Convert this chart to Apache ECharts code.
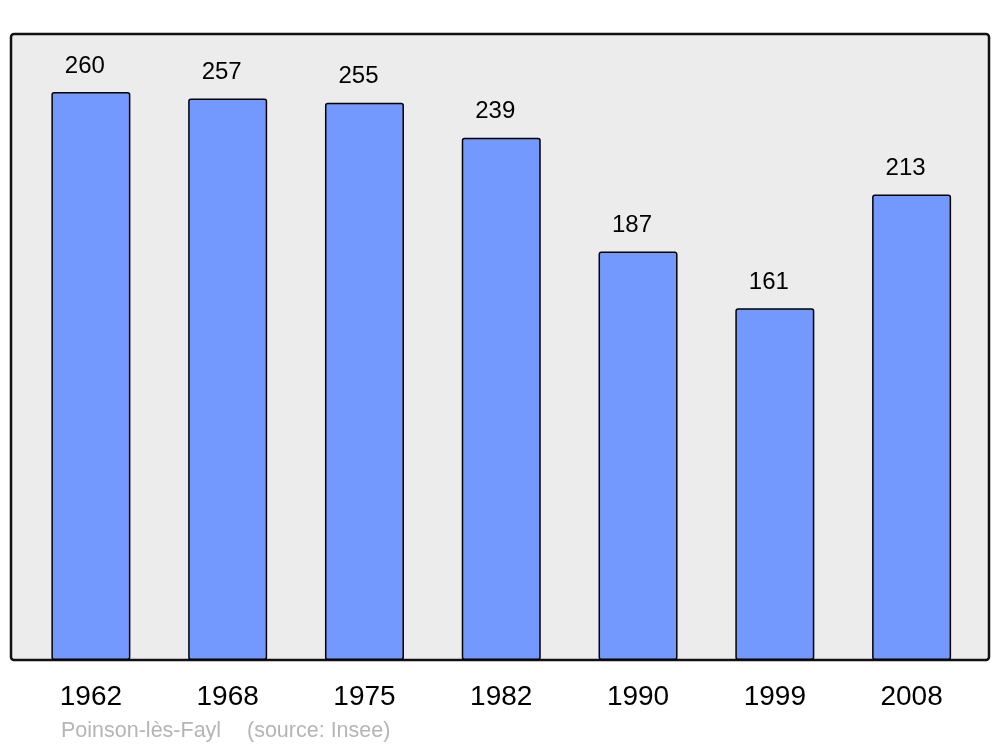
<!DOCTYPE html>
<html>
<head>
<meta charset="utf-8">
<script src="https://cdn.jsdelivr.net/npm/echarts@6/dist/echarts.min.js"></script>
<style>
  html, body { margin: 0; padding: 0; background: #fff; }
  #chart { width: 1000px; height: 747px; }
</style>
</head>
<body>
<div id="chart"></div>
<script>
// recensements
const years = ['1962', '1968', '1975', '1982', '1990', '1999', '2008']
const population = [260, 257, 255, 239, 187, 161, 213]
const commune = 'Poinson-lès-Fayl'
const source = '(source: Insee)'

const chart = echarts.init(document.getElementById('chart'))
chart.setOption({
  animation: false,
  textStyle: { fontFamily: 'Liberation Sans, Arial, sans-serif' },
  grid: { left: 22.5, right: 20, top: 34, bottom: 87 },
  graphic: [
    { // fond gris encadré
      type: 'rect',
      z: 0,
      shape: { x: 11, y: 34, width: 978, height: 626, r: 3 },
      style: { fill: '#ececec', stroke: '#111', lineWidth: 2.5 }
    },
    {
      type: 'text',
      left: 61,
      top: 720,
      style: { text: commune, fill: '#b5b5b5', fontSize: 21.5, fontFamily: 'Liberation Sans, Arial, sans-serif' }
    },
    {
      type: 'text',
      left: 247,
      top: 720,
      style: { text: source, fill: '#b5b5b5', fontSize: 21.5, fontFamily: 'Liberation Sans, Arial, sans-serif' }
    }
  ],
  xAxis: {
    type: 'category',
    data: years,
    axisLine: { show: false },
    axisTick: { show: false },
    axisLabel: { color: '#000', fontSize: 28, margin: 23 }
  },
  yAxis: {
    type: 'value',
    min: 0,
    max: 286.5,
    show: false,
    splitLine: { show: false }
  },
  series: [{
    type: 'bar',
    data: population,
    barWidth: 79,
    z: 2,
    itemStyle: {
      color: '#7399ff',
      borderColor: '#000',
      borderWidth: 1.5,
      borderRadius: 2
    },
    label: {
      show: true,
      position: 'top',
      distance: 14,
      offset: [-6, 0],
      color: '#000',
      fontSize: 24
    }
  }]
})
</script>
</body>
</html>
